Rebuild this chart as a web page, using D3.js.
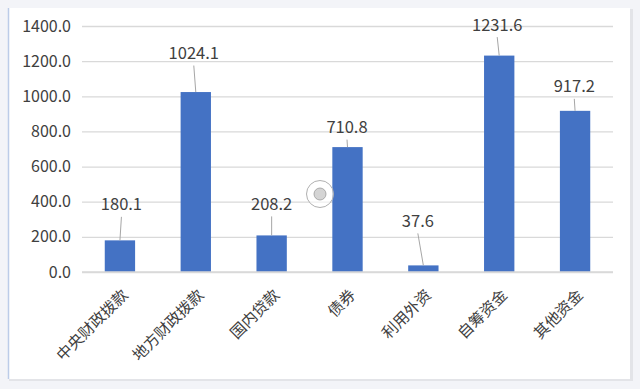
<html>
<head>
  <meta charset="utf-8">
  <script src="https://d3js.org/d3.v7.min.js"></script>
  <style>
    body { margin: 0; background: #f3f4f8; }
    text { font-family: "Noto Sans CJK SC", "Liberation Sans", sans-serif; }
  </style>
</head>
<body>
<script>

// data
var categories = ["中央财政拨款", "地方财政拨款", "国内贷款", "债券", "利用外资", "自筹资金", "其他资金"];
var values = [180.1, 1024.1, 208.2, 710.8, 37.6, 1231.6, 917.2];
var yTicks = [0, 200, 400, 600, 800, 1000, 1200, 1400];

// label placement (dx from bar centre, gap above bar top), pixels
var labelShift = [[1.5, 30], [-2, 33], [0, 25.5], [-0.5, 14], [-5.5, 38.5], [-2, 25], [-0.8, 18.5]];

var width = 640,
    height = 389,
    margin = {top: 26, right: 27, bottom: 117, left: 82},
    barColor = "#4472c4",
    gridColor = "#d9d9d9",
    textColor = "#404040";

var svg = d3.select("body")
  .append("svg")
  .attr("width", width)
  .attr("height", height);

// panel
svg.append("rect")
  .attr("x", 0).attr("y", 0)
  .attr("width", width).attr("height", height)
  .attr("fill", "#f3f4f8");
svg.append("rect")
  .attr("x", 9).attr("y", 9)
  .attr("width", 624).attr("height", 372)
  .attr("fill", "#e3e4e8");
svg.append("rect")
  .attr("x", 8).attr("y", 8)
  .attr("width", 622).attr("height", 371)
  .attr("fill", "white");
svg.append("line")
  .attr("x1", 8.5).attr("x2", 8.5)
  .attr("y1", 8).attr("y2", 379)
  .attr("stroke", "#bccce8")
  .attr("stroke-width", 1.5);

var x = d3.scaleBand()
  .domain(categories)
  .range([margin.left, width - margin.right])
  .paddingInner(0.6)
  .paddingOuter(0.3);

var y = d3.scaleLinear()
  .domain([0, 1400])
  .range([height - margin.bottom, margin.top]);

// gridlines + y labels
var yAxis = svg.append("g")
  .attr("transform", "translate(" + margin.left + ",0)")
  .call(d3.axisLeft(y)
    .tickValues(yTicks)
    .tickSize(-(width - margin.left - margin.right))
    .tickPadding(11)
    .tickFormat(d3.format(".1f")));
yAxis.select(".domain").remove();
yAxis.selectAll(".tick line")
  .attr("stroke", gridColor)
  .attr("stroke-width", 1.3);
yAxis.selectAll(".tick text")
  .attr("fill", textColor)
  .attr("font-size", 16);

// bars
svg.append("g")
  .selectAll("rect")
  .data(values)
  .enter()
  .append("rect")
  .attr("x", function(d, i) { return x(categories[i]); })
  .attr("y", function(d) { return y(d); })
  .attr("width", x.bandwidth())
  .attr("height", function(d) { return y(0) - y(d); })
  .attr("fill", barColor);

// x axis line
svg.append("line")
  .attr("x1", margin.left).attr("x2", width - margin.right)
  .attr("y1", y(0)).attr("y2", y(0))
  .attr("stroke", gridColor)
  .attr("stroke-width", 1.3);

// category labels
svg.append("g")
  .selectAll("text")
  .data(categories)
  .enter()
  .append("text")
  .attr("transform", function(d) {
    return "translate(" + (x(d) + x.bandwidth() / 2 + 4) + "," + (y(0) + 19) + ")rotate(-45)";
  })
  .attr("text-anchor", "end")
  .attr("dominant-baseline", "central")
  .attr("fill", textColor)
  .attr("font-size", 15.5)
  .text(function(d) { return d; });

// data labels with leader lines
var labels = svg.append("g");
values.forEach(function(v, i) {
  var cx = x(categories[i]) + x.bandwidth() / 2,
      top = y(v),
      lx = cx + labelShift[i][0],
      ly = top - labelShift[i][1];
  labels.append("line")
    .attr("x1", lx).attr("y1", ly + 6.5)
    .attr("x2", cx).attr("y2", top)
    .attr("stroke", "#a6a6a6")
    .attr("stroke-width", 1);
  labels.append("text")
    .attr("x", lx)
    .attr("y", ly)
    .attr("text-anchor", "middle")
    .attr("fill", textColor)
    .attr("font-size", 16.5)
    .text(d3.format(".1f")(v));
});

// small round marker left on the picture
var mark = svg.append("g").attr("transform", "translate(320,194)");
mark.append("circle")
  .attr("r", 13.5)
  .attr("fill", "white")
  .attr("fill-opacity", 0.6)
  .attr("stroke", "#b0b0b0")
  .attr("stroke-width", 1);
mark.append("circle")
  .attr("r", 6)
  .attr("fill", "#d4d4d4")
  .attr("stroke", "#9a9a9a")
  .attr("stroke-width", 0.8);

</script>
</body>
</html>
